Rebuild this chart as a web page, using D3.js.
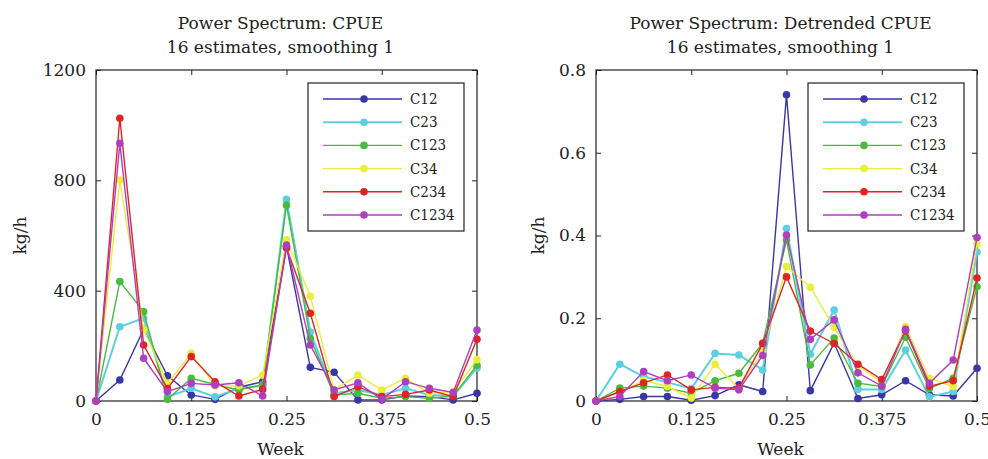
<!DOCTYPE html>
<html>
<head>
<meta charset="utf-8">
<script src="https://cdn.jsdelivr.net/npm/d3@7"></script>
<style>
  body { margin: 0; background: #fff; }
  text { font-family: "DejaVu Serif", serif; fill: #222; }
</style>
</head>
<body>
<div id="chart"></div>
<script>
/**
 * DATA
 * */
const weeks = d3.range(17).map(k => k / 32);
const seriesNames = ["C12", "C23", "C123", "C34", "C234", "C1234"];
const seriesColors = ["#3a36a6", "#5ccfe0", "#48bd3c", "#ecec3a", "#e02424", "#b03ec0"];

// raw CPUE spectrum
const cpueC12   = [0, 76, 260, 91, 22, 6, 50, 70, 560, 122, 104, 4, 4, 18, 16, 4, 28];
const cpueC23   = [0, 269, 300, 15, 46, 15, 46, 55, 731, 250, 28, 40, 22, 46, 22, 18, 120];
const cpueC123  = [0, 433, 324, 6, 82, 60, 40, 60, 710, 227, 22, 28, 10, 16, 10, 18, 130];
const cpueC34   = [0, 801, 260, 64, 173, 55, 55, 94, 584, 380, 40, 94, 40, 82, 28, 34, 150];
const cpueC234  = [0, 1025, 203, 45, 161, 70, 18, 42, 555, 318, 16, 52, 16, 24, 40, 16, 224];
const cpueC1234 = [0, 934, 155, 34, 64, 58, 66, 18, 565, 203, 40, 66, 6, 70, 46, 31, 257];

// detrended CPUE spectrum
const detC12   = [0, 0.004, 0.011, 0.011, 0.002, 0.013, 0.039, 0.023, 0.740, 0.025, 0.140, 0.006, 0.015, 0.049, 0.015, 0.012, 0.079];
const detC23   = [0, 0.089, 0.059, 0.045, 0.030, 0.115, 0.111, 0.075, 0.417, 0.113, 0.220, 0.028, 0.028, 0.123, 0.010, 0.023, 0.360];
const detC123  = [0, 0.031, 0.036, 0.031, 0.019, 0.049, 0.067, 0.140, 0.389, 0.087, 0.152, 0.043, 0.035, 0.154, 0.030, 0.055, 0.276];
const detC34   = [0, 0.020, 0.050, 0.035, 0.007, 0.089, 0.030, 0.120, 0.325, 0.275, 0.178, 0.085, 0.045, 0.180, 0.055, 0.035, 0.380];
const detC234  = [0, 0.023, 0.044, 0.063, 0.027, 0.033, 0.031, 0.139, 0.300, 0.169, 0.139, 0.089, 0.052, 0.170, 0.036, 0.049, 0.297];
const detC1234 = [0, 0.011, 0.071, 0.049, 0.063, 0.031, 0.027, 0.110, 0.401, 0.149, 0.196, 0.068, 0.036, 0.173, 0.043, 0.099, 0.395];

const xTicks = [0, 0.125, 0.25, 0.375, 0.5];
const cpueTicks = [0, 400, 800, 1200];
const detTicks = [0, 0.2, 0.4, 0.6, 0.8];

/**
 * CONSTANTS
 * */
const width = 988, height = 459;
const svg = d3.select("#chart").append("svg")
  .attr("width", width)
  .attr("height", height);

const panels = [
  {
    left: 96, labelX: -70, title: ["Power Spectrum: CPUE", "16 estimates, smoothing 1"],
    domain: [0, 1200], ticks: cpueTicks,
    series: [cpueC12, cpueC23, cpueC123, cpueC34, cpueC234, cpueC1234]
  },
  {
    left: 596, labelX: -52, title: ["Power Spectrum: Detrended CPUE", "16 estimates, smoothing 1"],
    domain: [0, 0.8], ticks: detTicks,
    series: [detC12, detC23, detC123, detC34, detC234, detC1234]
  }
];

panels.forEach(drawPanel);

function drawPanel(p) {
  const w = 381, top = 70, bottom = 401;
  const g = svg.append("g").attr("transform", `translate(${p.left},0)`);

  const x = d3.scaleLinear().domain([0, 0.5]).range([0, w]);
  const y = d3.scaleLinear().domain(p.domain).range([bottom, top]);

  // axes, ticks pointing inward like matlab
  const axisStyle = a => {
    a.select(".domain").remove();
    a.selectAll("line").attr("stroke", "#222");
  };
  g.append("g").attr("transform", `translate(0,${bottom})`)
    .call(d3.axisBottom(x).tickValues(xTicks).tickSize(-5).tickPadding(12).tickFormat(d => d))
    .call(axisStyle)
    .selectAll("text").attr("font-size", 17).attr("font-family", "DejaVu Serif").attr("fill", "#222");
  g.append("g").attr("transform", `translate(0,${top})`)
    .call(d3.axisTop(x).tickValues(xTicks).tickSize(-5).tickFormat(""))
    .call(axisStyle);
  g.append("g")
    .call(d3.axisLeft(y).tickValues(p.ticks).tickSize(-5).tickPadding(10).tickFormat(d => d))
    .call(axisStyle)
    .selectAll("text").attr("font-size", 17).attr("font-family", "DejaVu Serif").attr("fill", "#222");
  g.append("g").attr("transform", `translate(${w},0)`)
    .call(d3.axisRight(y).tickValues(p.ticks).tickSize(-5).tickFormat(""))
    .call(axisStyle);

  g.append("rect")
    .attr("x", 0).attr("y", top).attr("width", w).attr("height", bottom - top)
    .attr("fill", "none").attr("stroke", "#222").attr("stroke-width", 1.2);

  // lines + markers
  const line = d3.line().x((d, i) => x(weeks[i])).y(d => y(d));
  p.series.forEach((vals, si) => {
    const c = seriesColors[si];
    g.append("path")
      .datum(vals)
      .attr("d", line)
      .attr("fill", "none")
      .attr("stroke", c)
      .attr("stroke-width", si === 1 ? 2 : 1.4);
    g.selectAll(null)
      .data(vals)
      .join("circle")
      .attr("cx", (d, i) => x(weeks[i]))
      .attr("cy", d => y(d))
      .attr("r", 3.8)
      .attr("fill", c);
  });

  // titles
  g.append("text").attr("x", w / 2 - 6).attr("y", 29).attr("text-anchor", "middle")
    .attr("font-size", 17).text(p.title[0]);
  g.append("text").attr("x", w / 2 - 6).attr("y", 53).attr("text-anchor", "middle")
    .attr("font-size", 17).text(p.title[1]);
  g.append("text").attr("x", w / 2 - 6).attr("y", 455).attr("text-anchor", "middle")
    .attr("font-size", 17).text("Week");
  g.append("text")
    .attr("transform", `translate(${p.labelX},${(top + bottom) / 2}) rotate(-90)`)
    .attr("text-anchor", "middle").attr("font-size", 17).text("kg/h");

  // legend
  const lg = g.append("g").attr("transform", `translate(${w - 169},83)`);
  lg.append("rect").attr("width", 156).attr("height", 148)
    .attr("fill", "#fff").attr("stroke", "#222").attr("stroke-width", 1.2);
  seriesNames.forEach((name, i) => {
    const yy = 16 + i * 23.2;
    lg.append("line").attr("x1", 15).attr("x2", 94).attr("y1", yy).attr("y2", yy)
      .attr("stroke", seriesColors[i]).attr("stroke-width", i === 1 ? 2 : 1.4);
    lg.append("circle").attr("cx", 56).attr("cy", yy).attr("r", 3.8).attr("fill", seriesColors[i]);
    lg.append("text").attr("x", 102).attr("y", yy + 5)
      .attr("font-family", "'DejaVu Serif Condensed', 'DejaVu Serif', serif")
      .attr("font-stretch", "condensed")
      .attr("font-size", 15).text(name);
  });
}
</script>
</body>
</html>
